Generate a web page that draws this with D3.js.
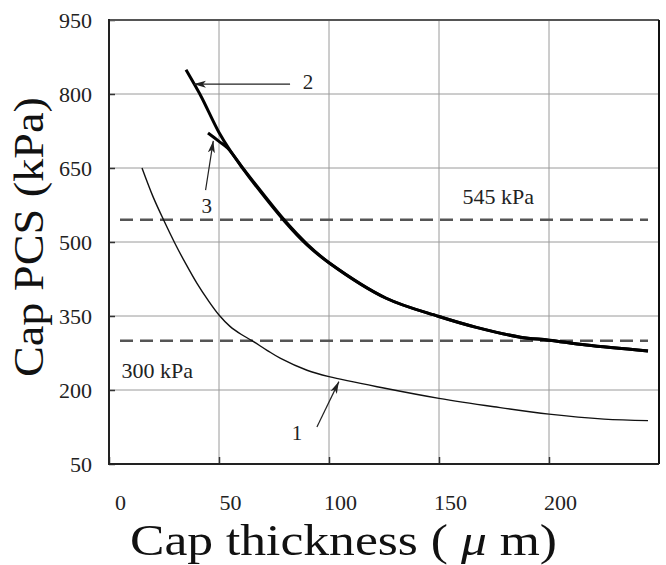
<!DOCTYPE html>
<html>
<head>
<meta charset="utf-8">
<script src="https://cdn.jsdelivr.net/npm/d3@7/dist/d3.min.js"></script>
<style>
  html, body { margin: 0; padding: 0; background: #fff; }
  svg { display: block; }
</style>
</head>
<body>
<svg id="chart" width="666" height="565"></svg>
<script>
// Cap PCS vs. cap thickness
const xTicks = [0, 50, 100, 150, 200];
const yTicks = [50, 200, 350, 500, 650, 800, 950];
const xGrid = [50, 100, 150, 200];
const yGrid = [200, 350, 500, 650, 800];

// curve 1 (thin)
const curve1X = [15, 20, 25, 30, 35, 40, 45, 50, 55, 60, 65, 72, 78, 90, 100, 126, 150, 175, 200, 225, 245];
const curve1Y = [650, 592, 543, 497, 455, 416, 382, 352, 329, 313, 300, 280, 264, 240, 227, 203, 183, 166, 151, 141, 138];
// curve 2 (thick)
const curve2X = [35, 39, 42, 50, 55, 60, 65, 80, 90, 100, 126, 150, 167, 187, 200, 217, 245];
const curve2Y = [849, 818, 794, 722, 686, 655, 626, 543, 496, 458, 386, 349, 327, 307, 301, 291, 279];
// curve 3 (thick, joins curve 2)
const curve3X = [45, 50, 54, 60, 65, 80, 90, 100, 126, 150, 167, 187, 200, 217, 245];
const curve3Y = [721, 704, 690, 654, 624, 541, 494, 458, 386, 349, 327, 307, 301, 291, 279];

// reference stress levels
const limitValues = [545, 300];
const limitLabels = ["545 kPa", "300 kPa"];

const FONT = "'Liberation Serif', 'Times New Roman', Times, serif";

const svg = d3.select("#chart");
const padL = 109, padR = 659, padT = 20, padB = 464;
const x = d3.scaleLinear().domain([0, 250]).range([padL, padR]);
const y = d3.scaleLinear().domain([50, 950]).range([padB, padT]);

// grid
svg.append("g").selectAll("line").data(xGrid).join("line")
  .attr("x1", d => x(d)).attr("x2", d => x(d))
  .attr("y1", padT).attr("y2", padB)
  .attr("stroke", "#9a9a9a").attr("stroke-width", 1);
svg.append("g").selectAll("line").data(yGrid).join("line")
  .attr("x1", padL).attr("x2", padR)
  .attr("y1", d => y(d)).attr("y2", d => y(d))
  .attr("stroke", "#9a9a9a").attr("stroke-width", 1);

// axes (ticks drawn inward, labels styled separately)
const yAxis = d3.axisLeft(y).tickValues(yTicks).tickSize(-6).tickPadding(17)
  .tickFormat(d3.format("d"));
const gy = svg.append("g").attr("transform", `translate(${padL},0)`).call(yAxis);
gy.select(".domain").remove();
gy.selectAll(".tick line").attr("stroke", "#333").attr("stroke-width", 1.5);
gy.selectAll(".tick text").style("font-family", FONT).style("font-size", "22px")
  .attr("fill", "#222");

const xAxis = d3.axisBottom(x).tickValues(xTicks).tickSize(-7).tickPadding(30)
  .tickFormat(d3.format("d"));
const gx = svg.append("g").attr("transform", `translate(0,${padB})`).call(xAxis);
gx.select(".domain").remove();
gx.selectAll(".tick line").attr("stroke", "#333").attr("stroke-width", 1.5);
gx.selectAll(".tick text").style("font-family", FONT).style("font-size", "22px")
  .attr("fill", "#222").attr("dx", 11);

// frame
svg.append("line").attr("x1", padL).attr("x2", padR).attr("y1", padT).attr("y2", padT)
  .attr("stroke", "#555").attr("stroke-width", 2);
svg.append("line").attr("x1", padR).attr("x2", padR).attr("y1", padT).attr("y2", padB)
  .attr("stroke", "#111").attr("stroke-width", 2);
svg.append("line").attr("x1", padL).attr("x2", padL).attr("y1", padT - 1).attr("y2", padB + 1)
  .attr("stroke", "#222").attr("stroke-width", 2);
svg.append("line").attr("x1", padL).attr("x2", padR).attr("y1", padB).attr("y2", padB)
  .attr("stroke", "#222").attr("stroke-width", 2);

// dashed reference lines
svg.append("g").selectAll("line").data(limitValues).join("line")
  .attr("x1", x(5)).attr("x2", x(245))
  .attr("y1", d => y(d)).attr("y2", d => y(d))
  .attr("stroke", "#555").attr("stroke-width", 2.5).attr("stroke-dasharray", "13,7");

svg.append("text").attr("x", x(160.7)).attr("y", y(577))
  .style("font-family", FONT).style("font-size", "22px")
  .attr("fill", "#222").text(limitLabels[0]);
svg.append("text").attr("x", x(5.7)).attr("y", y(224))
  .style("font-family", FONT).style("font-size", "22px")
  .attr("fill", "#222").text(limitLabels[1]);

// curves
const line = d3.line().x(d => x(d[0])).y(d => y(d[1])).curve(d3.curveCatmullRom.alpha(0.5));
const zip = (a, b) => a.map((v, i) => [v, b[i]]);
svg.append("path").datum(zip(curve1X, curve1Y)).attr("d", line)
  .attr("fill", "none").attr("stroke", "#111").attr("stroke-width", 1.4);
svg.append("path").datum(zip(curve3X, curve3Y)).attr("d", line)
  .attr("fill", "none").attr("stroke", "#000").attr("stroke-width", 3);
svg.append("path").datum(zip(curve2X, curve2Y)).attr("d", line)
  .attr("fill", "none").attr("stroke", "#000").attr("stroke-width", 3);

// annotation arrows
svg.append("defs").append("marker")
  .attr("id", "head").attr("viewBox", "0 0 12 8")
  .attr("refX", 12).attr("refY", 4)
  .attr("markerWidth", 12).attr("markerHeight", 8)
  .attr("markerUnits", "userSpaceOnUse").attr("orient", "auto")
  .append("path").attr("d", "M0,0.5 L12,4 L0,7.5 L3,4 Z").attr("fill", "#222");

const arrows = [
  { from: [82.3, 820], to: [38.6, 820], label: "2", at: [90.5, 810] },
  { from: [43.9, 605], to: [47.4, 705], label: "3", at: [44.4, 559] },
  { from: [94.5, 125], to: [104.5, 217], label: "1", at: [85.5, 99] }
];
arrows.forEach(a => {
  svg.append("line")
    .attr("x1", x(a.from[0])).attr("y1", y(a.from[1]))
    .attr("x2", x(a.to[0])).attr("y2", y(a.to[1]))
    .attr("stroke", "#222").attr("stroke-width", 1.2)
    .attr("marker-end", "url(#head)");
  svg.append("text").attr("x", x(a.at[0])).attr("y", y(a.at[1]))
    .attr("text-anchor", "middle")
    .style("font-family", FONT).style("font-size", "21px")
    .attr("fill", "#222").text(a.label);
});

// axis titles
const xt = svg.append("text").attr("x", 130).attr("y", 555)
  .style("font-family", FONT).style("font-size", "45px").attr("fill", "#111")
  .attr("textLength", 427).attr("lengthAdjust", "spacingAndGlyphs");
xt.append("tspan").text("Cap thickness ( ");
xt.append("tspan").style("font-style", "italic").text("μ");
xt.append("tspan").text(" m)");

svg.append("text")
  .attr("transform", "translate(43,237) rotate(-90)")
  .attr("text-anchor", "middle")
  .style("font-family", FONT).style("font-size", "43px").attr("fill", "#111")
  .attr("textLength", 280).attr("lengthAdjust", "spacingAndGlyphs")
  .text("Cap PCS (kPa)");
</script>
</body>
</html>
